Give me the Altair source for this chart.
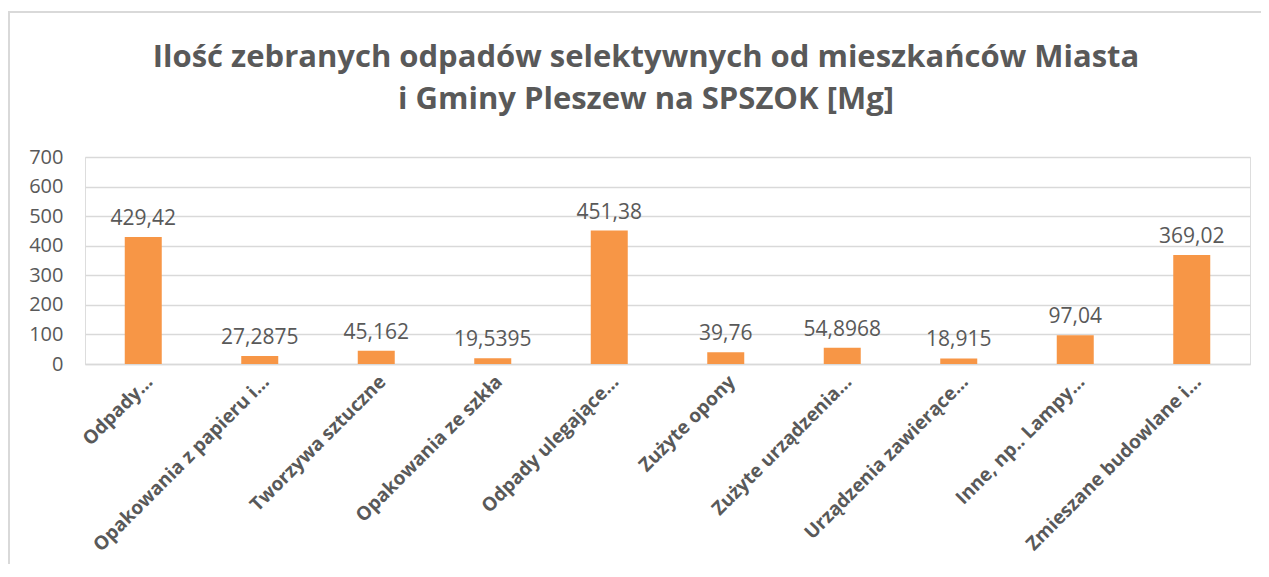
import altair as alt
import pandas as pd

categories = [
    "Odpady…",
    "Opakowania z papieru i…",
    "Tworzywa sztuczne",
    "Opakowania ze szkła",
    "Odpady ulegające…",
    "Zużyte opony",
    "Zużyte urządzenia…",
    "Urządzenia zawierące…",
    "Inne, np.. Lampy…",
    "Zmieszane budowlane i…",
]
values = [429.42, 27.2875, 45.162, 19.5395, 451.38, 39.76, 54.8968, 18.915, 97.04, 369.02]
value_labels = [str(v).replace(".", ",") for v in values]
title_lines = ["Ilość zebranych odpadów selektywnych od mieszkańców Miasta",
               "i Gminy Pleszew na SPSZOK [Mg]"]

df = pd.DataFrame({"cat": categories, "val": values, "lab": value_labels})
one = pd.DataFrame({"a": [0]})

W, H = 1165, 207
GRAY = "#595959"

x = alt.X("cat:N", sort=None, title=None,
          scale=alt.Scale(paddingInner=0, paddingOuter=0),
          axis=alt.Axis(labelAngle=-45, labelAlign="right", labelBaseline="top",
                        labelFontSize=19, labelFontWeight="bold",
                        labelColor=GRAY, labelFont="Open Sans", ticks=False,
                        domainColor="#d9d9d9", domainWidth=1.5, labelPadding=8,
                        labelLimit=400))
y = alt.Y("val:Q", title=None,
          scale=alt.Scale(domain=[0, 700], nice=False),
          axis=alt.Axis(values=[0, 100, 200, 300, 400, 500, 600, 700], labelFontSize=20,
                        labelColor=GRAY, labelFont="Open Sans", ticks=False, domain=False,
                        gridColor="#d9d9d9", gridWidth=1.5, labelPadding=22))

bars = alt.Chart(df).mark_bar(size=37, color="#F79646").encode(x=x, y=y)
texts = alt.Chart(df).mark_text(baseline="bottom", dy=-8, fontSize=21, color=GRAY,
                                font="Open Sans").encode(x=x, y=y, text="lab:N")

frame = alt.Chart(one).mark_rect(
    fill=None, stroke="#d9d9d9", strokeWidth=2
).encode(x=alt.value(-76), x2=alt.value(W + 300), y=alt.value(-145), y2=alt.value(H + 400))

title1 = alt.Chart(one).mark_text(
    fontSize=31, fontWeight="bold", color=GRAY, font="Open Sans", baseline="middle", align="center"
).encode(x=alt.value(561), y=alt.value(-99), text=alt.value(title_lines[0]))
title2 = alt.Chart(one).mark_text(
    fontSize=31, fontWeight="bold", color=GRAY, font="Open Sans", baseline="middle", align="center"
).encode(x=alt.value(561), y=alt.value(-57), text=alt.value(title_lines[1]))

chart = alt.layer(frame, bars, texts, title1, title2).properties(
    width=W, height=H,
    autosize=alt.AutoSizeParams(type="none"),
    padding={"left": 77, "top": 149, "right": 11, "bottom": 200},
).configure_view(stroke=None).configure(background="white")

chart.save("out.html", embed_options={"renderer": "svg", "actions": False})
